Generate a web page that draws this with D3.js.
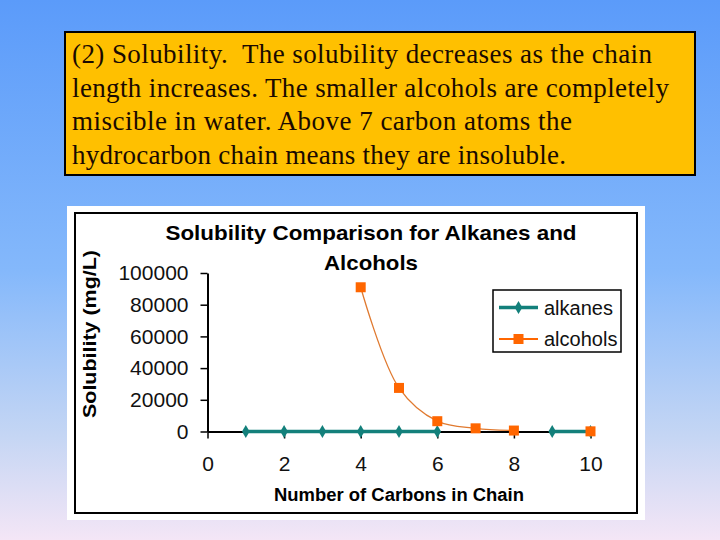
<!DOCTYPE html>
<html>
<head>
<meta charset="utf-8">
<script src="https://cdn.jsdelivr.net/npm/d3@7"></script>
<style>
  body { margin: 0; padding: 0; overflow: hidden; }
  svg { display: block; }
  text { white-space: pre; }
</style>
</head>
<body>
<div id="chart"></div>
<script>
// slide text
const noteLines = [
  "(2) Solubility.  The solubility decreases as the chain",
  "length increases. The smaller alcohols are completely",
  "miscible in water. Above 7 carbon atoms the",
  "hydrocarbon chain means they are insoluble."
];
const noteWidths = [580, 597, 500, 494];

// chart data (null = no point)
const carbons = [1, 2, 3, 4, 5, 6, 7, 8, 9, 10];
const alkanes = [0, 0, 0, 0, 0, 0, null, null, 0, 0];
const alcohols = [null, null, null, 91000, 27500, 6500, 2000, 600, null, 100];
const yTicks = [0, 20000, 40000, 60000, 80000, 100000];
const xTicks = [0, 2, 4, 6, 8, 10];
const titleLines = ["Solubility Comparison for Alkanes and", "Alcohols"];
const seriesNames = ["alkanes", "alcohols"];

const W = 720, H = 540;
const svg = d3.select("#chart").append("svg")
    .attr("width", W)
    .attr("height", H);

// background gradient
const grad = svg.append("defs").append("linearGradient")
    .attr("id", "bg")
    .attr("x1", 0).attr("y1", 0).attr("x2", 0).attr("y2", 1);
grad.selectAll("stop")
    .data([["0%", "#5b9bfa"], ["50%", "#84b8fb"], ["80%", "#c3d5f4"], ["100%", "#f4e6f6"]])
  .enter().append("stop")
    .attr("offset", d => d[0])
    .attr("stop-color", d => d[1]);

svg.append("rect")
    .attr("width", W).attr("height", H)
    .attr("fill", "url(#bg)");

// text box
svg.append("rect")
    .attr("x", 65).attr("y", 32)
    .attr("width", 630).attr("height", 143)
    .attr("fill", "#ffc000")
    .attr("stroke", "#000")
    .attr("stroke-width", 2);

svg.append("g")
    .attr("font-family", "'Liberation Serif', 'Times New Roman', serif")
    .attr("font-size", 27)
    .attr("fill", "#1a0a00")
  .selectAll("text")
    .data(noteLines)
  .enter().append("text")
    .attr("x", 72)
    .attr("y", (d, i) => 63 + i * 33.7)
    .attr("textLength", (d, i) => noteWidths[i])
    .attr("lengthAdjust", "spacing")
    .text(d => d);

// chart panel
svg.append("rect")
    .attr("x", 67).attr("y", 206)
    .attr("width", 578).attr("height", 314)
    .attr("fill", "#fff");
svg.append("rect")
    .attr("x", 75).attr("y", 213)
    .attr("width", 562).attr("height", 300)
    .attr("fill", "none")
    .attr("stroke", "#000")
    .attr("stroke-width", 2);

const x = d3.scaleLinear().domain([0, 10]).range([207.5, 590.5]);
const y = d3.scaleLinear().domain([0, 100000]).range([431.5, 273]);

const sans = "'Liberation Sans', Arial, sans-serif";

// title
svg.append("g")
    .attr("font-family", sans)
    .attr("font-weight", "bold")
    .attr("font-size", 21)
    .attr("text-anchor", "middle")
  .selectAll("text")
    .data(titleLines)
  .enter().append("text")
    .attr("x", 371)
    .attr("y", (d, i) => 240 + i * 30)
    .attr("textLength", (d, i) => i ? 94 : 411)
    .attr("lengthAdjust", "spacingAndGlyphs")
    .text(d => d);

// axes
const yAxis = svg.append("g")
    .attr("transform", `translate(${x(0)},0)`)
    .call(d3.axisLeft(y).tickValues(yTicks).tickSize(7).tickSizeOuter(0).tickPadding(12)
      .tickFormat(d3.format("d")));

const xAxis = svg.append("g")
    .attr("transform", `translate(0,${y(0)})`)
    .call(d3.axisBottom(x).tickValues(xTicks).tickSize(7).tickSizeOuter(0).tickPadding(18));

[yAxis, xAxis].forEach(g => {
  g.attr("font-family", sans).attr("font-size", 21);
  g.select(".domain").attr("stroke", "#000").attr("stroke-width", 2);
  g.selectAll(".tick line").attr("stroke", "#000").attr("stroke-width", 1.5);
  g.selectAll(".tick text").attr("fill", "#111");
});

// axis titles
svg.append("text")
    .attr("transform", "translate(96,334) rotate(-90)")
    .attr("text-anchor", "middle")
    .attr("font-family", sans)
    .attr("font-weight", "bold")
    .attr("font-size", 18)
    .attr("textLength", 168)
    .attr("lengthAdjust", "spacingAndGlyphs")
    .text("Solubility (mg/L)");

svg.append("text")
    .attr("x", 399).attr("y", 501)
    .attr("text-anchor", "middle")
    .attr("font-family", sans)
    .attr("font-weight", "bold")
    .attr("font-size", 18)
    .attr("textLength", 250)
    .attr("lengthAdjust", "spacingAndGlyphs")
    .text("Number of Carbons in Chain");

// series
const teal = "#13807b", orange = "#ff6600";

const alkPts = carbons.map((c, i) => ({ c, v: alkanes[i] }));
const alcPts = carbons.map((c, i) => ({ c, v: alcohols[i] }));

const line = d3.line()
    .defined(d => d.v !== null)
    .x(d => x(d.c))
    .y(d => y(d.v));

svg.append("path")
    .datum(alkPts)
    .attr("fill", "none")
    .attr("stroke", teal)
    .attr("stroke-width", 3.5)
    .attr("d", line);

svg.append("path")
    .datum(alcPts)
    .attr("fill", "none")
    .attr("stroke", "#e07a30")
    .attr("stroke-width", 1.3)
    .attr("d", line.curve(d3.curveCatmullRom.alpha(0.5)));

const diamond = d3.symbol().type(d3.symbolDiamond).size(50);

svg.append("g")
  .selectAll("path")
    .data(alkPts.filter(d => d.v !== null))
  .enter().append("path")
    .attr("transform", d => `translate(${x(d.c)},${y(d.v)})`)
    .attr("d", diamond)
    .attr("fill", teal);

svg.append("g")
  .selectAll("rect")
    .data(alcPts.filter(d => d.v !== null))
  .enter().append("rect")
    .attr("x", d => x(d.c) - 5)
    .attr("y", d => y(d.v) - 5)
    .attr("width", 10).attr("height", 10)
    .attr("fill", orange);

// legend
const legend = svg.append("g").attr("transform", "translate(493,290)");
legend.append("rect")
    .attr("width", 128).attr("height", 62)
    .attr("fill", "#fff")
    .attr("stroke", "#000")
    .attr("stroke-width", 1.5);

const rows = legend.selectAll(".row")
    .data(seriesNames)
  .enter().append("g")
    .attr("class", "row")
    .attr("transform", (d, i) => `translate(0,${17.5 + i * 31.5})`);

rows.append("line")
    .attr("x1", 6).attr("x2", 45)
    .attr("stroke", (d, i) => i ? orange : teal)
    .attr("stroke-width", (d, i) => i ? 2 : 3.5);

rows.each(function (d, i) {
  const g = d3.select(this);
  if (i === 0) {
    g.append("path").attr("transform", "translate(25.5,0)").attr("d", diamond).attr("fill", teal);
  } else {
    g.append("rect").attr("x", 20.5).attr("y", -5).attr("width", 10).attr("height", 10).attr("fill", orange);
  }
});

rows.append("text")
    .attr("x", 51)
    .attr("dy", "0.36em")
    .attr("font-family", sans)
    .attr("font-size", 20)
    .attr("fill", "#111")
    .text(d => d);
</script>
</body>
</html>
